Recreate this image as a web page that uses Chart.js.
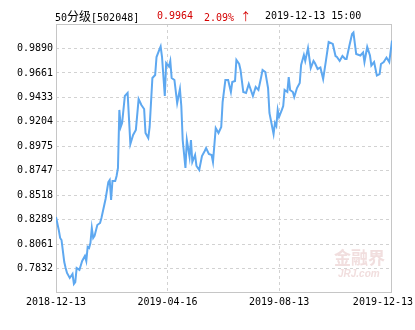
<!DOCTYPE html>
<html><head><meta charset="utf-8">
<script src="https://cdn.jsdelivr.net/npm/chart.js@4"></script>
<style>
html,body{margin:0;padding:0;background:#fff;}
#wrap{position:relative;width:415px;height:330px;overflow:hidden;background:#fff;}
#c{position:absolute;left:0;top:0;}
.t{position:absolute;top:10px;font:10px/12px "DejaVu Sans Mono",monospace;white-space:nowrap;color:#000;}
.cjk{font-family:"Noto Sans CJK SC",sans-serif;font-size:12px;}
.red{color:#d40000;}
.arr{font-family:"Noto Sans CJK SC",sans-serif;font-size:11px;}
.wm1{position:absolute;left:334px;top:247px;font:bold 17px/20px "Noto Sans CJK SC",sans-serif;color:#f1dede;letter-spacing:0px;}
.wm2{position:absolute;left:338px;top:268px;font:italic bold 10px/12px "Liberation Sans",sans-serif;color:#f1dede;}
</style></head>
<body><div id="wrap">
<canvas id="c" width="415" height="330"></canvas>
<div class="wm1">金融界</div>
<div class="wm2">JRJ.com</div>
<div class="t" style="left:55px">50<span class="cjk">分级</span>[502048]</div>
<div class="t red" style="left:157px">0.9964</div>
<div class="t red" style="left:204px">2.09% <span class="arr">↑</span></div>
<div class="t" style="left:265px">2019-12-13 15:00</div>
</div>
<script>
// trading-day index (0 = 2018-12-13) and net value
const dayIndex = [0,2,3,4,6,7,8,10,12,13,
  14,15,17,19,21,22,23,24,25,26,
  27,28,30,32,33,36,38,39,40,41,
  43,44,45,46,47,48,50,52,54,56,
  58,60,62,64,65,67,68,70,72,73,
  75,76,77,79,80,82,83,84,86,88,
  90,91,92,94,95,97,98,99,101,102,
  104,106,108,109,111,113,114,116,118,120,
  121,123,125,127,128,130,131,133,134,136,
  138,140,142,143,145,147,149,150,152,154,
  155,157,158,159,160,161,162,164,165,166,
  168,169,170,172,173,175,177,178,180,181,
  183,185,187,188,190,192,194,196,198,201,
  203,204,206,208,210,211,213,215,216,218,
  221,223,224,226,228,229,231,233,235,236,
  238,240,242,244];
const values = [0.8314,0.8193,0.8118,0.8099,0.7893,0.7837,0.7791,0.7744,0.7781,0.7688,
  0.7706,0.7837,0.7819,0.7903,0.7950,0.7903,0.8034,0.8024,0.8071,0.8211,
  0.8118,0.8137,0.8239,0.8258,0.8305,0.8482,0.8641,0.8660,0.8473,0.8651,
  0.8651,0.8697,0.8772,0.9315,0.9156,0.9193,0.9446,0.9474,0.8997,0.9081,
  0.9128,0.9417,0.9361,0.9324,0.9100,0.9053,0.9156,0.9614,0.9642,0.9810,
  0.9876,0.9908,0.9810,0.9446,0.9754,0.9721,0.9773,0.9614,0.9595,0.9380,
  0.9511,0.9352,0.9034,0.8772,0.9034,0.8875,0.9034,0.8828,0.8894,0.8791,
  0.8754,0.8884,0.8931,0.8959,0.8903,0.8894,0.8828,0.9146,0.9100,0.9156,
  0.9389,0.9595,0.9595,0.9483,0.9576,0.9586,0.9782,0.9745,0.9689,0.9483,
  0.9474,0.9558,0.9483,0.9446,0.9530,0.9502,0.9623,0.9689,0.9670,0.9520,
  0.9287,0.9156,0.9090,0.9193,0.9165,0.9315,0.9249,0.9315,0.9352,0.9502,
  0.9483,0.9623,0.9502,0.9483,0.9436,0.9520,0.9567,0.9735,0.9829,0.9773,
  0.9894,0.9707,0.9773,0.9754,0.9698,0.9712,0.9604,0.9773,0.9950,0.9932,
  0.9819,0.9810,0.9773,0.9819,0.9791,0.9791,0.9913,1.0025,1.0039,0.9838,
  0.9824,0.9852,0.9763,0.9904,0.9824,0.9731,0.9763,0.9637,0.9651,0.9745,
  0.9763,0.9805,0.9763,0.9964];
const xTickIdx = [0, 81, 162, 244];
const xTickLabels = ['2018-12-13', '2019-04-16', '2019-08-13', '2019-12-13'];
const yTicks = [0.7832, 0.8061, 0.8289, 0.8518, 0.8747, 0.8975, 0.9204, 0.9433, 0.9661, 0.9890];
const yMin = 0.76033, yMax = 1.01187;

const FONT = {family: '"DejaVu Sans Mono", monospace', size: 10};
const GRID = '#d2d2d2';

const frame = {
  id: 'frame',
  beforeDatasetsDraw(chart) {
    const {ctx, chartArea: a} = chart;
    ctx.save();
    ctx.strokeStyle = '#c6c6c6';
    ctx.lineWidth = 1;
    ctx.setLineDash([]);
    ctx.strokeRect(Math.round(a.left) + 0.5, Math.round(a.top) + 0.5,
      Math.round(a.right - a.left) - 1, Math.round(a.bottom - a.top) - 1);
    ctx.restore();
  }
};

new Chart(document.getElementById('c'), {
  type: 'line',
  data: {
    datasets: [{
      data: dayIndex.map((d, i) => ({x: d, y: values[i]})),
      borderColor: '#5ea8f0',
      borderWidth: 2,
      pointRadius: 0,
      tension: 0,
      fill: false
    }]
  },
  options: {
    responsive: false,
    animation: false,
    devicePixelRatio: 1,
    layout: {padding: {top: 24, right: 23, bottom: 0, left: 0}},
    plugins: {legend: {display: false}, tooltip: {enabled: false}},
    scales: {
      x: {
        type: 'linear', min: 0, max: 244,
        afterBuildTicks: s => { s.ticks = xTickIdx.map(v => ({value: v})); },
        afterFit: s => { s.height = 37; s.paddingLeft = 0; s.paddingRight = 0; },
        ticks: {
          font: FONT, color: '#000', padding: 3, maxRotation: 0, minRotation: 0, autoSkip: false,
          callback: (v, i) => i === xTickLabels.length - 1 ? xTickLabels[i] + '   ' : xTickLabels[i]
        },
        grid: {
          color: c => (c.index === 0 || c.index === xTickIdx.length - 1) ? 'rgba(0,0,0,0)' : GRID,
          drawTicks: false, borderDash: [3, 3]
        },
        border: {display: false, dash: [3, 3]}
      },
      y: {
        type: 'linear', min: yMin, max: yMax,
        afterBuildTicks: s => { s.ticks = yTicks.map(v => ({value: v})); },
        afterFit: s => { s.width = 56; s.paddingTop = 0; s.paddingBottom = 0; },
        ticks: {font: FONT, color: '#000', padding: 3, callback: v => v.toFixed(4)},
        grid: {color: GRID, drawTicks: false, borderDash: [3, 3]},
        border: {display: false, dash: [3, 3]}
      }
    }
  },
  plugins: [frame]
});
</script>
</body></html>
